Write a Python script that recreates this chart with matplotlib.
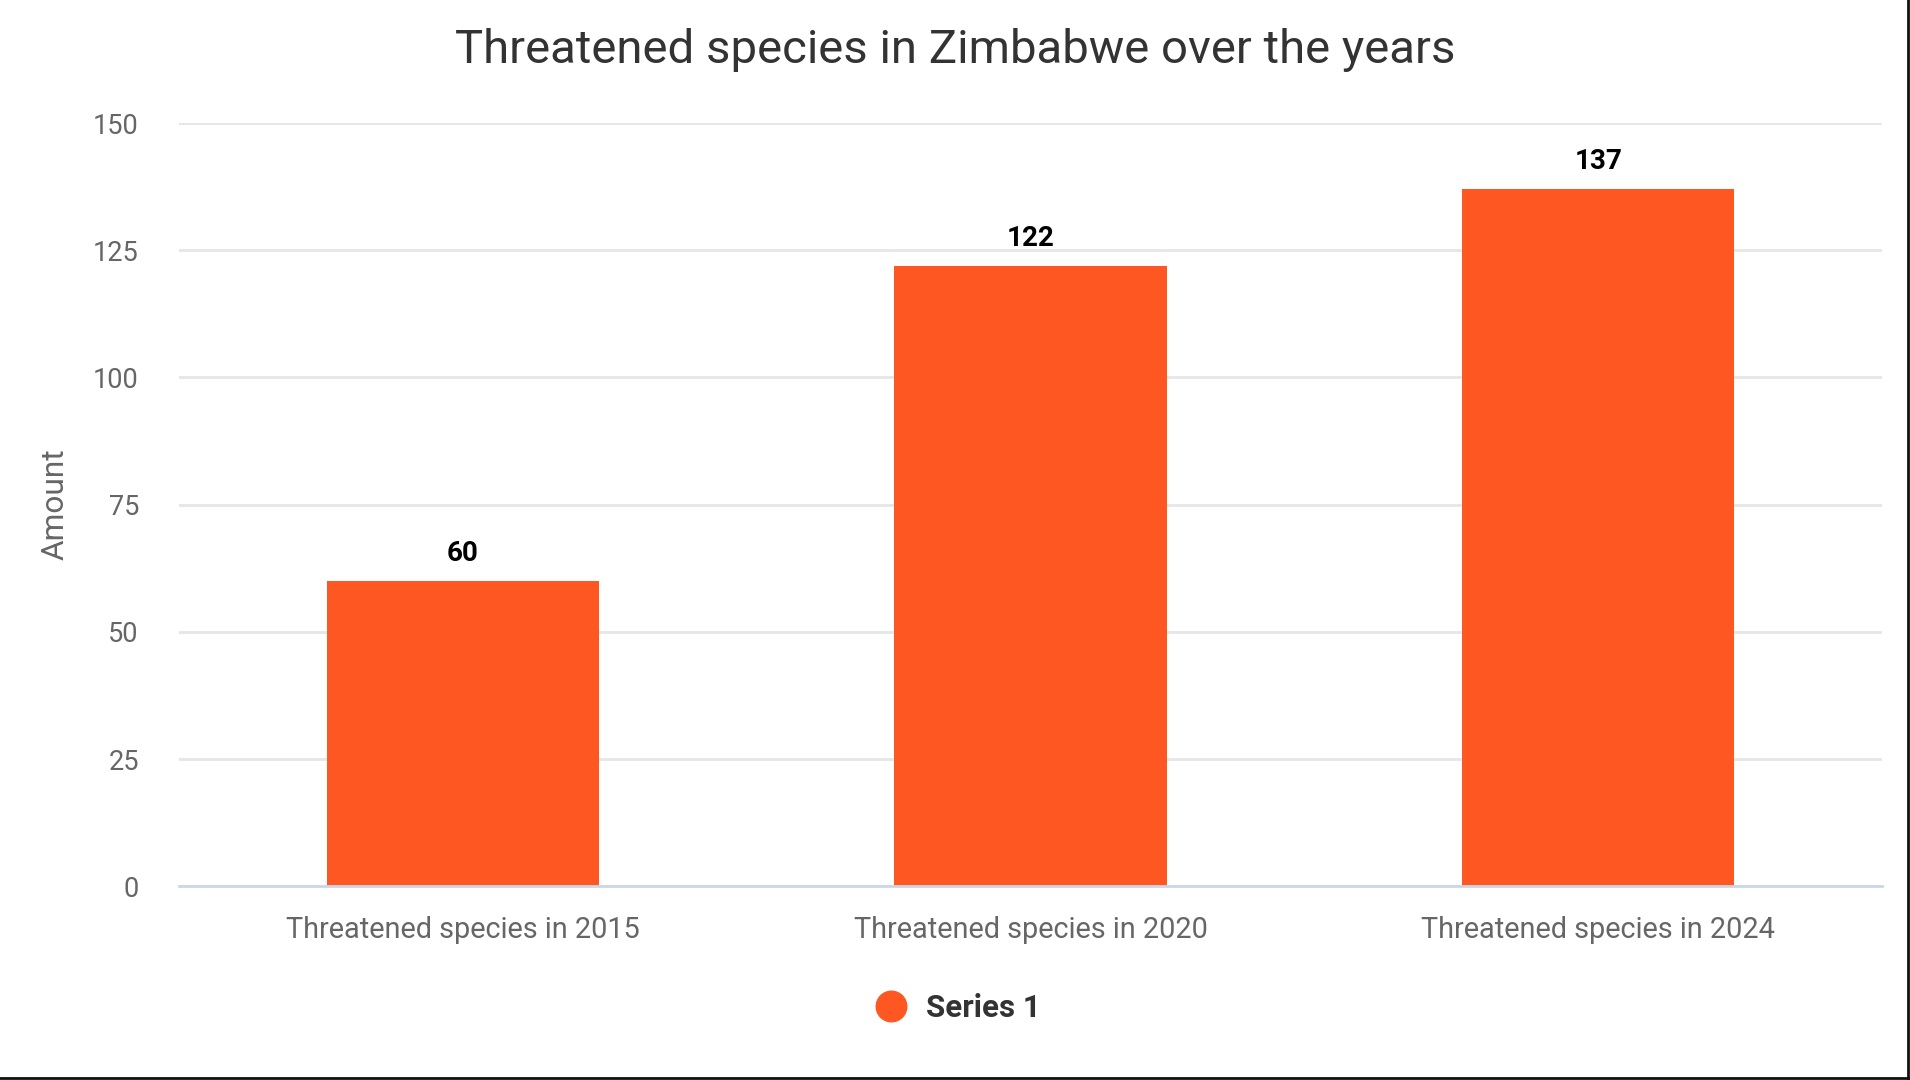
import matplotlib
matplotlib.use("Agg")
import matplotlib.pyplot as plt
from matplotlib.lines import Line2D

plt.rcParams['font.family'] = ['Roboto', 'DejaVu Sans']

categories = ["Threatened species in 2015", "Threatened species in 2020", "Threatened species in 2024"]
values = [60, 122, 137]
y_ticks = [0, 25, 50, 75, 100, 125, 150]

bar_color = "#ff5722"

fig = plt.figure(figsize=(19.1, 10.8), dpi=100)
ax = fig.add_axes([0.0938, 0.1793, 0.8915, 0.7068])

x = list(range(len(categories)))
bars = ax.bar(x, values, width=0.48, color=bar_color, zorder=3)

for xi, v in zip(x, values):
    ax.annotate(str(v), (xi, v), xytext=(0, 10), textcoords="offset points",
                ha="center", va="bottom", fontsize=20, fontweight="bold", color="#000000")

ax.set_xlim(-0.5, len(categories) - 0.5)
ax.set_ylim(0, 150)
ax.set_yticks(y_ticks)
ax.set_xticks(x)
ax.set_xticklabels(categories)
ax.tick_params(axis="y", length=0, pad=29, labelsize=19.5, labelcolor="#666666")
ax.tick_params(axis="x", length=0, pad=21, labelsize=20.8, labelcolor="#666666")
for t in ax.get_yticklabels():
    t.set_horizontalalignment("right")

ax.grid(axis="y", color="#e6e6e6", linewidth=2, zorder=0)
for s in ["top", "right", "left"]:
    ax.spines[s].set_visible(False)
ax.spines["bottom"].set_color("#ccd6eb")
ax.spines["bottom"].set_linewidth(2)
ax.spines["bottom"].set_zorder(4)

ax.set_ylabel("Amount", fontsize=22.8, color="#666666")
ax.yaxis.set_label_coords(-0.0645, 0.5)

fig.suptitle("Threatened species in Zimbabwe over the years", fontsize=34, color="#333333", y=0.974)

handle = Line2D([], [], marker="o", linestyle="none", markersize=22, color=bar_color)
leg = fig.legend([handle], ["Series 1"], loc="center", bbox_to_anchor=(0.4975, 0.067),
                 frameon=False, handletextpad=0.1, prop={"size": 22.5, "weight": "bold"})
for t in leg.get_texts():
    t.set_color("#333333")

# thin dark frame on right and bottom edges like the reference
fig.add_artist(Line2D([0, 1], [0.0015, 0.0015], transform=fig.transFigure, color="#111111", linewidth=2))
fig.add_artist(Line2D([0.9992, 0.9992], [0, 1], transform=fig.transFigure, color="#111111", linewidth=2))

fig.savefig("out.png", dpi=100, facecolor="white")
